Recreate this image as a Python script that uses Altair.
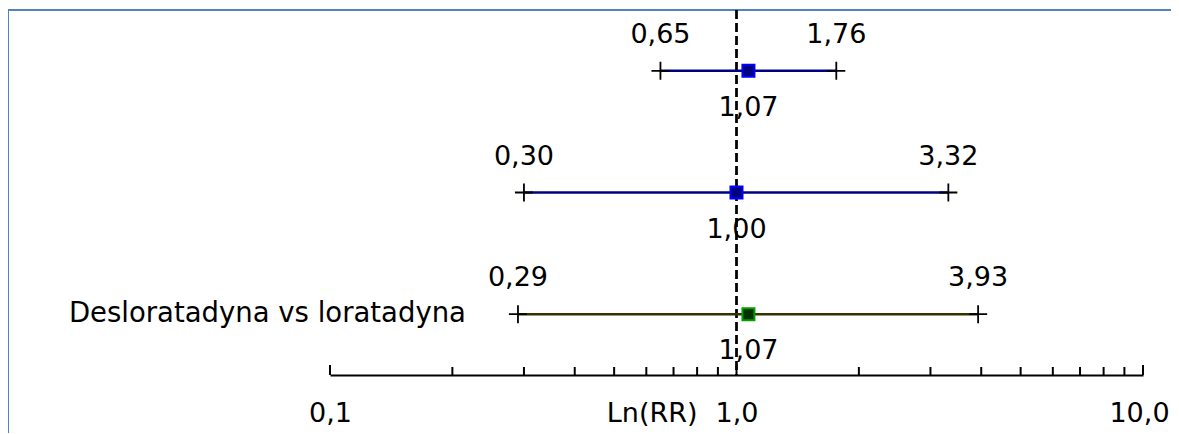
import altair as alt
import pandas as pd

# ---- data ----
row_ids = ["r1", "r2", "r3"]
row_names = ["", "", "Desloratadyna vs loratadyna"]
row_pos = [3, 2, 1]
rr = [1.07, 1.00, 1.07]
lower = [0.65, 0.30, 0.29]
upper = [1.76, 3.32, 3.93]

tick_values = [0.1, 0.2, 0.3, 0.4, 0.5, 0.6, 0.7, 0.8, 0.9, 1.0,
               2.0, 3.0, 4.0, 5.0, 6.0, 7.0, 8.0, 9.0, 10.0]
major_ticks = [0.1, 1.0, 10.0]
axis_labels = [0.1, 1.0, 10.0]
axis_title = "Ln(RR)"

# ---- styles ----
line_colors = ["#000080", "#000080", "#333300"]
fill_colors = ["#000080", "#000080", "#003300"]
edge_colors = ["#0000ff", "#0000ff", "#00a000"]
FONT = "DejaVu Sans"
FS = 27
W, H = 813, 365

df = pd.DataFrame({"row": row_ids, "name": row_names, "pos": row_pos,
                   "rr": rr, "lo": lower, "hi": upper})
ticks = pd.DataFrame({"t": tick_values,
                      "major": [v in major_ticks for v in tick_values]})

xs = alt.Scale(type="log", domain=[0.1, 10])
ys = alt.Scale(domain=[0.5, 3.5])
xaxis = alt.Axis(values=axis_labels, labelExpr="replace(format(datum.value, '.1f'), '.', ',')",
                 ticks=False, grid=False, domainColor="black", domainWidth=2,
                 labelFont=FONT, labelFontSize=FS, labelColor="black",
                 labelBaseline="top", labelPadding=25, labelFlush=False, labelOverlap=False,
                 labelOffset={"condition": {"test": "datum.value >= 10", "value": -4}, "value": 0},
                 title=axis_title, titleFont=FONT, titleFontSize=FS, titleFontWeight="normal",
                 titleColor="black", titleAlign="right", titleBaseline="top",
                 titleX=367, titleY=25, titleAngle=0)

def X(field):
    return alt.X(field, type="quantitative", scale=xs, axis=xaxis)

Y = alt.Y("pos:Q", scale=ys, axis=None)
line_c = alt.Color("row:N", scale=alt.Scale(domain=row_ids, range=line_colors), legend=None)
fill_c = alt.Fill("row:N", scale=alt.Scale(domain=row_ids, range=fill_colors), legend=None)
edge_c = alt.Stroke("row:N", scale=alt.Scale(domain=row_ids, range=edge_colors), legend=None)

base = alt.Chart(df)

frame = base.mark_rect(filled=False, stroke="#4f81bd", strokeWidth=1.5).encode(
    x=alt.value(-322), x2=alt.value(W + 200), y=alt.value(0), y2=alt.value(H + 200))

ref_line = base.mark_rule(color="black", strokeWidth=2, strokeDash=[9, 4]).encode(
    x=alt.X(datum=1.0, type="quantitative", scale=xs, axis=xaxis),
    y=alt.value(0), y2=alt.value(H))

minor = alt.Chart(ticks).transform_filter("!datum.major").mark_rule(
    color="black", strokeWidth=2).encode(x=X("t"), y=alt.value(H), y2=alt.value(H - 8))
major = alt.Chart(ticks).transform_filter("datum.major").mark_rule(
    color="black", strokeWidth=2).encode(x=X("t"), y=alt.value(H), y2=alt.value(H - 10))

ci = base.mark_rule(strokeWidth=2.5).encode(x=X("lo"), x2="hi", y=Y, color=line_c)

cross_shape = "M-1,0H1M0,-1V1"
cross_lo = base.mark_point(shape=cross_shape, size=324, filled=False, color="black",
                           strokeWidth=1.8, opacity=1).encode(x=X("lo"), y=Y)
cross_hi = base.mark_point(shape=cross_shape, size=324, filled=False, color="black",
                           strokeWidth=1.8, opacity=1).encode(x=X("hi"), y=Y)

pt = base.mark_square(size=144, strokeWidth=2, opacity=1).encode(
    x=X("rr"), y=Y, fill=fill_c, stroke=edge_c)

fmt = lambda f: f"replace(format(datum.{f}, '.2f'), '.', ',')"
txt = dict(font=FONT, fontSize=FS, color="black", baseline="middle", align="center")
lo_lab = base.transform_calculate(s=fmt("lo")).mark_text(dy=-36, **txt).encode(
    x=X("lo"), y=Y, text="s:N")
hi_lab = base.transform_calculate(s=fmt("hi")).mark_text(dy=-36, **txt).encode(
    x=X("hi"), y=Y, text="s:N")
rr_lab = base.transform_calculate(s=fmt("rr")).mark_text(dy=37, **txt).encode(
    x=X("rr"), y=Y, text="s:N")
name_lab = base.mark_text(font=FONT, fontSize=27.5, color="black", baseline="middle",
                          align="right", dx=-52).encode(x=X("lo"), y=Y, text="name:N")

chart = alt.layer(frame, ref_line, minor, major, ci, cross_lo, cross_hi, pt,
                  lo_lab, hi_lab, rr_lab, name_lab).properties(
    width=W, height=H,
    background="white",
    autosize=alt.AutoSizeParams(type="none"),
    padding={"left": 322, "top": 2, "right": 28, "bottom": 58},
).configure_view(strokeWidth=0, stroke="transparent").configure_axis(grid=False)

chart.save("out.html", embed_options={"renderer": "svg", "actions": False})
